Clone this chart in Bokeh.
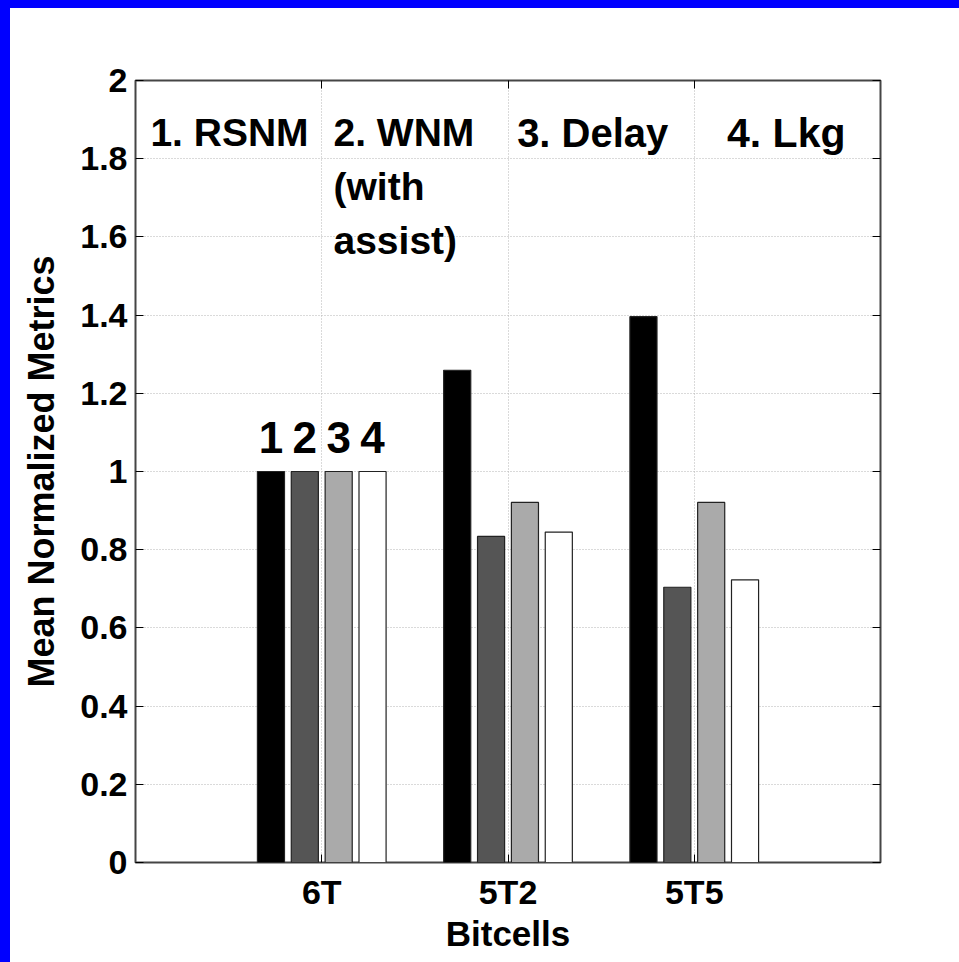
from jinja2 import Template
from bokeh.plotting import figure
from bokeh.models import FixedTicker, Range1d, LinearAxis, Label, ColumnDataSource
from bokeh.embed import file_html
from bokeh.resources import INLINE
from bokeh.core.properties import value

# ---- data ----
bitcells = ["6T", "5T2", "5T5"]
rsnm = [1.0, 1.259, 1.396]
wnm = [1.0, 0.834, 0.704]
delay = [1.0, 0.921, 0.921]
lkg = [1.0, 0.845, 0.723]
series_colors = ["#000000", "#555555", "#aaaaaa", "#ffffff"]
bar_numbers = ["1", "2", "3", "4"]
metric_notes = [["1. RSNM"], ["2. WNM", "(with", "assist)"], ["3. Delay"], ["4. Lkg"]]
y_ticks = [0, 0.2, 0.4, 0.6, 0.8, 1.0, 1.2, 1.4, 1.6, 1.8, 2.0]
y_tick_labels = ["0", "0.2", "0.4", "0.6", "0.8", "1", "1.2", "1.4", "1.6", "1.8", "2"]

FONT = "Liberation Sans"
series = [rsnm, wnm, delay, lkg]
n = len(series)
group_w = min(0.8, n / (n + 1.5))
step = group_w / n
bar_w = 0.8 * step

p = figure(width=959, height=962, output_backend="svg", toolbar_location=None,
           x_range=Range1d(0, 4), y_range=Range1d(0, 2),
           min_border_left=135, min_border_right=79, min_border_top=80, min_border_bottom=100)
p.border_fill_color = "white"
p.background_fill_color = "white"
p.outline_line_color = "#454545"
p.outline_line_width = 2

xs = list(range(1, len(bitcells) + 1))

# grid
p.xgrid.ticker = FixedTicker(ticks=xs)
p.ygrid.ticker = FixedTicker(ticks=y_ticks)
for g in (p.xgrid, p.ygrid):
    g.grid_line_color = "#b4b4b4"
    g.grid_line_dash = "1 2"
    g.grid_line_width = 1

for i, s in enumerate(series):
    off = (i - (n - 1) / 2) * step
    src = ColumnDataSource(dict(x=[x + off for x in xs], top=s))
    p.vbar(x="x", top="top", width=bar_w, bottom=0, source=src,
           fill_color=series_colors[i], line_color="#222222", line_width=1.2)

# numbers above 6T bars
num_src = ColumnDataSource(dict(
    x=[xs[0] + (i - (n - 1) / 2) * step for i in range(n)],
    y=[series[i][0] + 0.086 for i in range(n)],
    t=bar_numbers))
p.text(x="x", y="y", text="t", source=num_src, text_align="center",
       text_baseline="alphabetic", text_font=value(FONT), text_font_style="bold",
       text_font_size="44px", text_color="black")

# metric notes
note_x = [0.08, 1.063, 2.049, 3.176]
note_size = ["39px", "39px", "40px", "41px"]
for k, lines in enumerate(metric_notes):
    for j, line in enumerate(lines):
        p.add_layout(Label(x=note_x[k], y=1.866 - j * 0.138, text=line,
                           text_font=FONT, text_font_style="bold", text_font_size=note_size[k],
                           text_color="black", text_baseline="alphabetic"))

# axes
xa = p.xaxis[0]
xa.ticker = FixedTicker(ticks=xs)
xa.major_label_overrides = {x: b for x, b in zip(xs, bitcells)}
xa.axis_label = "Bitcells"
ya = p.yaxis[0]
ya.ticker = FixedTicker(ticks=y_ticks)
ya.major_label_overrides = {t: l for t, l in zip(y_ticks, y_tick_labels)}
ya.axis_label = "Mean Normalized Metrics"

for ax in (xa, ya):
    ax.axis_line_color = None
    ax.major_tick_in = 8
    ax.major_tick_out = 0
    ax.major_tick_line_color = "black"
    ax.minor_tick_line_color = None
    ax.major_label_text_font = FONT
    ax.major_label_text_font_style = "bold"
    ax.major_label_text_font_size = "34px"
    ax.major_label_text_color = "black"
    ax.axis_label_text_font = FONT
    ax.axis_label_text_font_style = "bold"
    ax.axis_label_text_color = "black"
xa.axis_label_text_font_size = "35px"
ya.axis_label_text_font_size = "36px"
xa.major_label_standoff = 10
xa.axis_label_standoff = 0
ya.major_label_standoff = 8
ya.axis_label_standoff = 15

ra = LinearAxis(ticker=FixedTicker(ticks=y_ticks), axis_line_color=None,
                major_tick_in=8, major_tick_out=0, minor_tick_line_color=None,
                major_label_text_font_size="0px", major_label_text_color=None)
p.add_layout(ra, "right")
ta = LinearAxis(ticker=FixedTicker(ticks=xs), axis_line_color=None,
                major_tick_in=8, major_tick_out=0, minor_tick_line_color=None,
                major_label_text_font_size="0px", major_label_text_color=None)
p.add_layout(ta, "above")

page_template = Template("""{% extends base %}
{% block postamble %}
<style>
html, body { margin: 0; padding: 0; background: #ffffff; overflow: hidden; }
body::before { content: ""; position: fixed; left: 0; top: 0; width: 10px; height: 100%; background: #0000ff; z-index: 1000; }
body::after { content: ""; position: fixed; left: 0; top: 0; width: 100%; height: 8px; background: #0000ff; z-index: 1000; }
</style>
{% endblock %}""")

open("out.html", "w").write(file_html(p, INLINE, template=page_template))
